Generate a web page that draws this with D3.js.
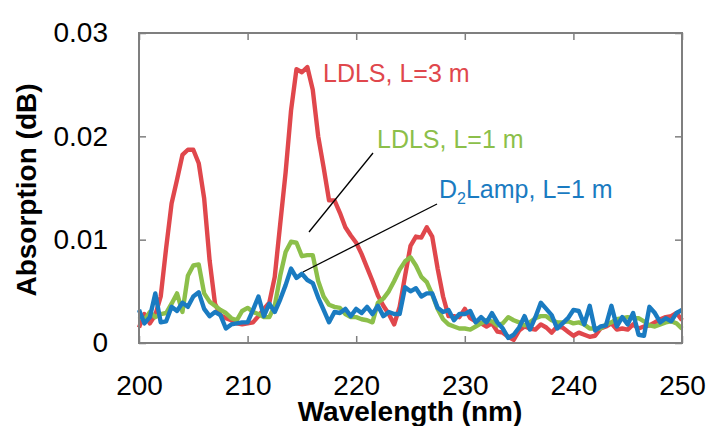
<!DOCTYPE html>
<html>
<head>
<meta charset="utf-8">
<script src="https://cdn.jsdelivr.net/npm/d3@7"></script>
<style>
  body { margin: 0; background: #fff; }
  svg { display: block; font-family: "Liberation Sans", Arial, sans-serif; }
</style>
</head>
<body>
<svg id="grafico" width="709" height="426"></svg>
<script>
// DATI (assorbimento in unita' di 1e-3 dB, passo 0.5 nm da 200 a 250 nm)

var lunghezzeOnda = d3.range(200, 250.001, 0.5);

var ldls3m = [
  1.5, 2.8, 1.9, 2.7, 4.5, 9.2, 13.5, 15.8, 18.2, 18.7,
  18.7, 17.4, 14.0, 8.0, 3.8, 2.7, 2.4, 2.2, 1.9, 1.8,
  1.9, 2.0, 2.6, 3.3, 3.9, 6.4, 11.5, 16.5, 22.5, 26.5,
  26.2, 26.7, 24.5, 20.0, 17.0, 13.8, 13.8, 12.6, 11.2, 10.4,
  9.7, 8.6, 7.3, 6.0, 4.6, 3.6, 2.8, 1.8, 3.5, 6.5,
  9.4, 10.3, 10.2, 11.2, 10.3, 7.2, 4.5, 2.6, 2.6, 2.5,
  3.3, 2.4, 2.1, 1.9, 1.6, 1.9, 1.1, 1.0, 0.6, 0.3,
  1.2, 1.6, 1.4, 1.3, 1.8, 1.5, 1.0, 1.6, 1.5, 1.1,
  0.7, 1.0, 0.8, 0.6, 0.7, 1.4, 1.6, 1.9, 1.3, 1.4,
  1.3, 1.8, 1.4, 1.6, 1.7, 2.0, 2.3, 2.5, 2.6, 2.9,
  2.2
];

var ldls1m = [
  2.6, 2.2, 3.0, 2.5, 2.8, 2.9, 3.8, 4.8, 3.0, 6.5,
  7.5, 7.6, 4.8, 4.0, 3.6, 3.2, 2.9, 2.4, 2.2, 3.1,
  3.4, 3.0, 2.8, 2.5, 2.5, 3.6, 6.5, 8.8, 9.8, 9.7,
  8.4, 8.5, 8.5, 6.0, 4.5, 3.7, 3.5, 3.4, 2.8, 2.5,
  2.5, 2.3, 2.2, 2.0, 3.9, 4.3, 5.0, 6.0, 7.1, 7.9,
  8.3, 7.5, 6.4, 5.9, 4.7, 3.3, 2.3, 1.8, 1.6, 1.4,
  1.4, 1.3, 1.6, 1.9, 2.2, 2.1, 1.7, 1.9, 2.5, 2.2,
  2.0, 1.7, 2.0, 2.4, 2.6, 2.6, 2.2, 2.0, 2.0, 2.1,
  1.9, 2.0, 1.8, 1.4, 1.4, 1.4, 1.8, 2.0, 2.3, 2.4,
  2.5, 2.4, 2.4, 2.1, 1.7, 1.6, 1.8, 2.0, 2.1, 1.9,
  1.4
];

var lampadaD2 = [
  3.2, 1.9, 2.5, 4.8, 2.0, 2.1, 3.5, 3.1, 3.9, 3.5,
  4.5, 4.9, 3.3, 2.6, 3.0, 2.7, 1.4, 1.8, 1.9, 2.0,
  2.0, 3.2, 4.5, 2.6, 3.8, 3.0, 4.2, 5.6, 7.2, 6.3,
  6.7, 6.1, 5.8, 4.4, 3.2, 2.0, 3.0, 2.9, 3.3, 2.6,
  3.3, 2.9, 3.5, 2.8, 3.6, 2.6, 3.0, 2.8, 2.8, 5.4,
  5.0, 5.3, 4.5, 4.8, 4.8, 3.4, 3.0, 3.2, 2.2, 2.8,
  2.8, 3.1, 2.0, 2.5, 2.0, 2.9, 2.0, 1.4, 0.5, 0.8,
  1.5, 2.6, 1.3, 2.5, 3.9, 3.3, 2.7, 1.4, 1.9, 2.4,
  3.2, 3.1, 1.8, 3.6, 1.2, 1.6, 1.7, 3.6, 1.6, 2.5,
  1.8, 2.9, 0.8, 0.7, 3.5, 2.9, 2.0, 2.4, 2.1, 2.9,
  3.2
];

var tickX = [200, 210, 220, 230, 240, 250];
var tickY = [0, 0.01, 0.02, 0.03];

var serie = [
  { nome: "LDLS, L=3 m", valori: ldls3m, colore: "#e0474c" },
  { nome: "LDLS, L=1 m", valori: ldls1m, colore: "#8cbf4a" },
  { nome: "D2Lamp, L=1 m", valori: lampadaD2, colore: "#1a7bc1" }
];

// SCALE

var svg = d3.select("#grafico");

var margine = { sinistra: 139, destra: 682, alto: 33, basso: 343 };

var x = d3.scaleLinear().domain([200, 250]).range([margine.sinistra, margine.destra]);
var y = d3.scaleLinear().domain([0, 0.03]).range([margine.basso, margine.alto]);

var coloreBordo = "#7f7f7f";

// ASSI

svg.append("g")
  .attr("transform", "translate(0," + margine.basso + ")")
  .call(d3.axisBottom(x).tickValues(tickX).tickSize(-7).tickPadding(32).tickFormat(d3.format("d")));

svg.append("g")
  .attr("transform", "translate(0," + margine.alto + ")")
  .call(d3.axisTop(x).tickValues(tickX).tickSize(-7).tickFormat(""));

svg.append("g")
  .attr("transform", "translate(" + margine.sinistra + ",0)")
  .call(d3.axisLeft(y).tickValues(tickY).tickSize(-7).tickPadding(31)
    .tickFormat(d => d === 0 ? "0" : d3.format(".2f")(d)));

svg.append("g")
  .attr("transform", "translate(" + margine.destra + ",0)")
  .call(d3.axisRight(y).tickValues(tickY).tickSize(-7).tickFormat(""));

svg.selectAll(".domain").remove();
svg.selectAll(".tick line").attr("stroke", coloreBordo).attr("stroke-width", 1.5);
svg.selectAll(".tick text")
  .attr("fill", "#000")
  .style("font-size", "28px")
  .style("font-family", "'Liberation Sans', Arial, sans-serif");

// CURVE

var linea = d3.line()
  .x((d, i) => x(lunghezzeOnda[i]))
  .y(d => y(d / 1000));

serie.forEach(s => {
  svg.append("path")
    .datum(s.valori)
    .attr("d", linea)
    .attr("fill", "none")
    .attr("stroke", s.colore)
    .attr("stroke-width", 4.4)
    .attr("stroke-linejoin", "round");
});

// BORDO

svg.append("rect")
  .attr("x", margine.sinistra)
  .attr("y", margine.alto)
  .attr("width", margine.destra - margine.sinistra)
  .attr("height", margine.basso - margine.alto)
  .attr("fill", "none")
  .attr("stroke", coloreBordo)
  .attr("stroke-width", 2);

// ETICHETTE DELLE SERIE

svg.append("text")
  .attr("x", 323).attr("y", 82)
  .attr("fill", serie[0].colore)
  .style("font-size", "25px")
  .text(serie[0].nome);

svg.append("text")
  .attr("x", 377).attr("y", 148)
  .attr("fill", serie[1].colore)
  .style("font-size", "25px")
  .text(serie[1].nome);

var etichettaD2 = svg.append("text")
  .attr("x", 439).attr("y", 198)
  .attr("fill", serie[2].colore)
  .style("font-size", "25px");
etichettaD2.append("tspan").text("D");
etichettaD2.append("tspan").attr("dy", 6).style("font-size", "16px").text("2");
etichettaD2.append("tspan").attr("dy", -6).text("Lamp, L=1 m");

// linee di richiamo
svg.append("line")
  .attr("x1", 373).attr("y1", 153)
  .attr("x2", 309).attr("y2", 232)
  .attr("stroke", "#000").attr("stroke-width", 1.3);

svg.append("line")
  .attr("x1", 437).attr("y1", 204)
  .attr("x2", 303).attr("y2", 272)
  .attr("stroke", "#000").attr("stroke-width", 1.3);

// TITOLI DEGLI ASSI

svg.append("text")
  .attr("x", 410).attr("y", 421)
  .attr("text-anchor", "middle")
  .style("font-size", "28px")
  .style("font-weight", "bold")
  .text("Wavelength (nm)");

svg.append("text")
  .attr("transform", "translate(36,190) rotate(-90)")
  .attr("text-anchor", "middle")
  .style("font-size", "28px")
  .style("font-weight", "bold")
  .text("Absorption (dB)");
</script>
</body>
</html>
